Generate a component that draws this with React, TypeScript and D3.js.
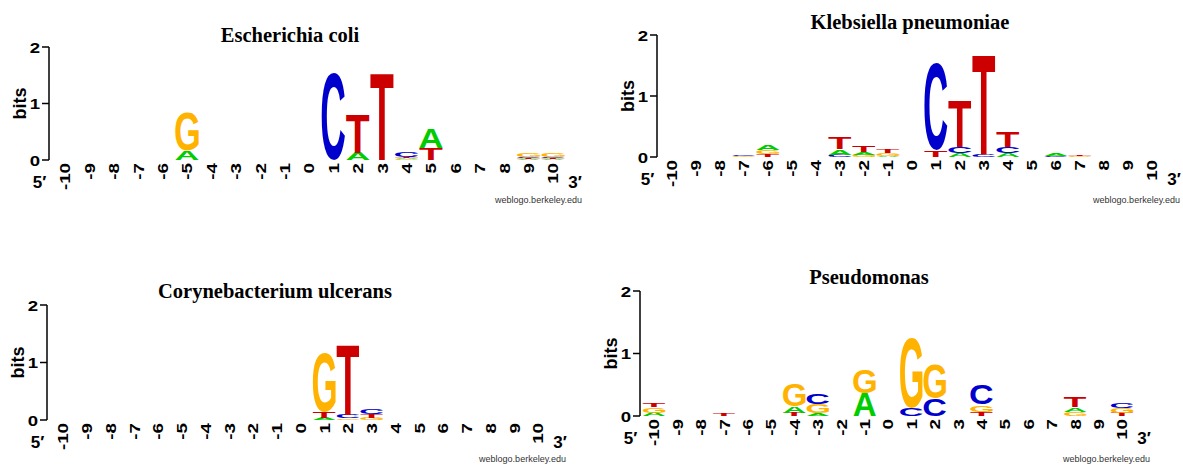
import React, { useMemo } from 'react';
import * as d3 from 'd3';

type Stack = { pos: number; letters: [string, number][] };

// position tick labels (5' -> 3')
const positionLabels = ["-10", "-9", "-8", "-7", "-6", "-5", "-4", "-3", "-2", "-1", "0", "1", "2", "3", "4", "5", "6", "7", "8", "9", "10"];
const yTickValues = [0, 1, 2];

// letters listed bottom -> top, heights in bits
const ecoliStacks: Stack[] = [
  { pos: -5, letters: [["A", 0.16], ["G", 0.67]] },
  { pos: 1, letters: [["C", 1.53]] },
  { pos: 2, letters: [["A", 0.13], ["T", 0.69]] },
  { pos: 3, letters: [["T", 1.54]] },
  { pos: 4, letters: [["G", 0.01], ["A", 0.02], ["T", 0.03], ["C", 0.09]] },
  { pos: 5, letters: [["T", 0.21], ["A", 0.35]] },
  { pos: 9, letters: [["A", 0.01], ["T", 0.02], ["C", 0.03], ["G", 0.07]] },
  { pos: 10, letters: [["A", 0.01], ["T", 0.02], ["C", 0.03], ["G", 0.07]] },
];

const klebsiellaStacks: Stack[] = [
  { pos: -7, letters: [["G", 0.01], ["C", 0.02]] },
  { pos: -6, letters: [["T", 0.05], ["G", 0.06], ["A", 0.09]] },
  { pos: -3, letters: [["C", 0.04], ["A", 0.09], ["T", 0.18]] },
  { pos: -2, letters: [["G", 0.03], ["A", 0.05], ["T", 0.1]] },
  { pos: -1, letters: [["A", 0.02], ["G", 0.05], ["T", 0.07]] },
  { pos: 1, letters: [["T", 0.11], ["C", 1.43]] },
  { pos: 2, letters: [["A", 0.07], ["C", 0.1], ["T", 0.77]] },
  { pos: 3, letters: [["C", 0.04], ["T", 1.64]] },
  { pos: 4, letters: [["A", 0.07], ["C", 0.1], ["T", 0.26]] },
  { pos: 6, letters: [["C", 0.02], ["A", 0.04]] },
  { pos: 7, letters: [["G", 0.01], ["T", 0.02]] },
];

const corynebacteriumStacks: Stack[] = [
  { pos: 1, letters: [["A", 0.04], ["T", 0.1], ["G", 1.02]] },
  { pos: 2, letters: [["G", 0.03], ["C", 0.06], ["T", 1.22]] },
  { pos: 3, letters: [["G", 0.04], ["T", 0.06], ["C", 0.09]] },
];

const pseudomonasStacks: Stack[] = [
  { pos: -10, letters: [["A", 0.05], ["G", 0.09], ["T", 0.07]] },
  { pos: -7, letters: [["T", 0.04]] },
  { pos: -4, letters: [["T", 0.05], ["A", 0.1], ["G", 0.35]] },
  { pos: -3, letters: [["A", 0.04], ["G", 0.15], ["C", 0.16]] },
  { pos: -1, letters: [["A", 0.37], ["G", 0.38]] },
  { pos: 1, letters: [["C", 0.13], ["G", 1.12]] },
  { pos: 2, letters: [["C", 0.28], ["G", 0.54]] },
  { pos: 4, letters: [["T", 0.07], ["G", 0.11], ["C", 0.32]] },
  { pos: 8, letters: [["G", 0.07], ["A", 0.07], ["T", 0.16]] },
  { pos: 10, letters: [["T", 0.05], ["G", 0.08], ["C", 0.08]] },
];

const letterColors: Record<string, string> = { A: '#00CC00', C: '#0000CC', G: '#FFB300', T: '#CC0000' };

const SANS = '"Liberation Sans", Arial, Helvetica, sans-serif';
const SERIF = '"Liberation Serif", "Times New Roman", serif';

const panels = [
  { title: 'Escherichia coli', stacks: ecoliStacks, axisX: 49, yTop: 47, yBase: 160, xFirst: 65, xLast: 553, titleX: 290, titleY: 42, creditX: 582, creditY: 203 },
  { title: 'Klebsiella pneumoniae', stacks: klebsiellaStacks, axisX: 657, yTop: 35, yBase: 157, xFirst: 672, xLast: 1152, titleX: 910, titleY: 29, creditX: 1180, creditY: 203 },
  { title: 'Corynebacterium ulcerans', stacks: corynebacteriumStacks, axisX: 47, yTop: 305, yBase: 420, xFirst: 63, xLast: 538, titleX: 275, titleY: 298, creditX: 566, creditY: 462 },
  { title: 'Pseudomonas', stacks: pseudomonasStacks, axisX: 640, yTop: 291, yBase: 416, xFirst: 654, xLast: 1122, titleX: 869, titleY: 284, creditX: 1150, creditY: 462 },
];

type Metrics = Record<string, { left: number; right: number; ascent: number; descent: number }>;

function useGlyphMetrics(): Metrics {
  return useMemo(() => {
    const out: Metrics = {};
    const canvas = document.createElement('canvas');
    const ctx = canvas.getContext('2d');
    for (const ch of ['A', 'C', 'G', 'T']) {
      if (ctx) {
        ctx.font = `bold 100px ${SANS}`;
        const m = ctx.measureText(ch);
        out[ch] = {
          left: m.actualBoundingBoxLeft,
          right: m.actualBoundingBoxRight,
          ascent: m.actualBoundingBoxAscent,
          descent: m.actualBoundingBoxDescent,
        };
      } else {
        out[ch] = { left: 0, right: 72, ascent: 72, descent: 0 };
      }
    }
    return out;
  }, []);
}

function Panel({ p, metrics }: { p: typeof panels[number]; metrics: Metrics }) {
  const step = (p.xLast - p.xFirst) / (positionLabels.length - 1);
  const x = d3.scaleBand<string>()
    .domain(positionLabels)
    .range([p.xFirst - step / 2, p.xLast + step / 2])
    .paddingInner(0.04)
    .paddingOuter(0.02);
  const y = d3.scaleLinear().domain([0, 2]).range([p.yBase, p.yTop]);
  const center = (lab: string) => (x(lab) ?? 0) + x.bandwidth() / 2;
  const w = x.bandwidth();

  const glyphs: React.ReactNode[] = [];
  p.stacks.forEach((s) => {
    const lab = String(s.pos);
    const x0 = center(lab) - w / 2;
    let acc = 0;
    s.letters.forEach(([ch, bits], i) => {
      const yBottom = y(acc);
      const yTopL = y(acc + bits);
      acc += bits;
      const h = yBottom - yTopL;
      const m = metrics[ch];
      const sx = w / (m.left + m.right);
      const sy = h / (m.ascent + m.descent);
      glyphs.push(
        <text
          key={`${lab}-${i}`}
          transform={`translate(${x0},${yTopL}) scale(${sx},${sy}) translate(${m.left},${m.ascent})`}
          fontFamily={SANS}
          fontWeight="bold"
          fontSize={100}
          fill={letterColors[ch]}
        >
          {ch}
        </text>
      );
    });
  });

  return (
    <g>
      <text x={p.titleX} y={p.titleY} textAnchor="middle" fontFamily={SERIF} fontWeight="bold" fontSize={20.5} fill="#000">
        {p.title}
      </text>
      {/* y axis */}
      <line x1={p.axisX} x2={p.axisX} y1={y(2)} y2={y(0)} stroke="#000" strokeWidth={1.5} />
      {yTickValues.map((v) => (
        <g key={v}>
          <line x1={p.axisX - 7} x2={p.axisX} y1={y(v)} y2={y(v)} stroke="#000" strokeWidth={1.5} />
          <text
            transform={`translate(${p.axisX - 9},${y(v)}) scale(1.2,1)`}
            textAnchor="end"
            dy="0.36em"
            fontFamily={SANS}
            fontWeight="bold"
            fontSize={15.5}
            fill="#000"
          >
            {v}
          </text>
        </g>
      ))}
      <text
        transform={`translate(${p.axisX - 23.5},${(y(0) + y(2)) / 2}) rotate(-90)`}
        textAnchor="middle"
        fontFamily={SANS}
        fontWeight="bold"
        fontSize={18}
        fill="#000"
      >
        bits
      </text>
      {/* x tick labels */}
      {positionLabels.map((lab) => (
        <text
          key={lab}
          transform={`translate(${center(lab)},${p.yBase + 3}) rotate(-90) scale(1.25,1)`}
          textAnchor="end"
          dy="0.36em"
          fontFamily={SANS}
          fontWeight="bold"
          fontSize={15}
          fill="#000"
        >
          {lab}
        </text>
      ))}
      <text x={p.axisX - 9.5} y={p.yBase + 28} textAnchor="middle" fontFamily={SANS} fontWeight="bold" fontSize={17} fill="#000">
        5′
      </text>
      <text x={p.xLast + 22} y={p.yBase + 28} textAnchor="middle" fontFamily={SANS} fontWeight="bold" fontSize={17} fill="#000">
        3′
      </text>
      {glyphs}
      <text x={p.creditX} y={p.creditY} textAnchor="end" fontFamily={SANS} fontSize={9} fill="#333">
        weblogo.berkeley.edu
      </text>
    </g>
  );
}

export default function App() {
  const metrics = useGlyphMetrics();
  return (
    <svg
      width={1183}
      height={465}
      viewBox="0 0 1183 465"
      style={{ position: 'absolute', left: 0, top: 0, background: '#fff' }}
    >
      <rect x={0} y={0} width={1183} height={465} fill="#fff" />
      {panels.map((p) => (
        <Panel key={p.title} p={p} metrics={metrics} />
      ))}
    </svg>
  );
}
